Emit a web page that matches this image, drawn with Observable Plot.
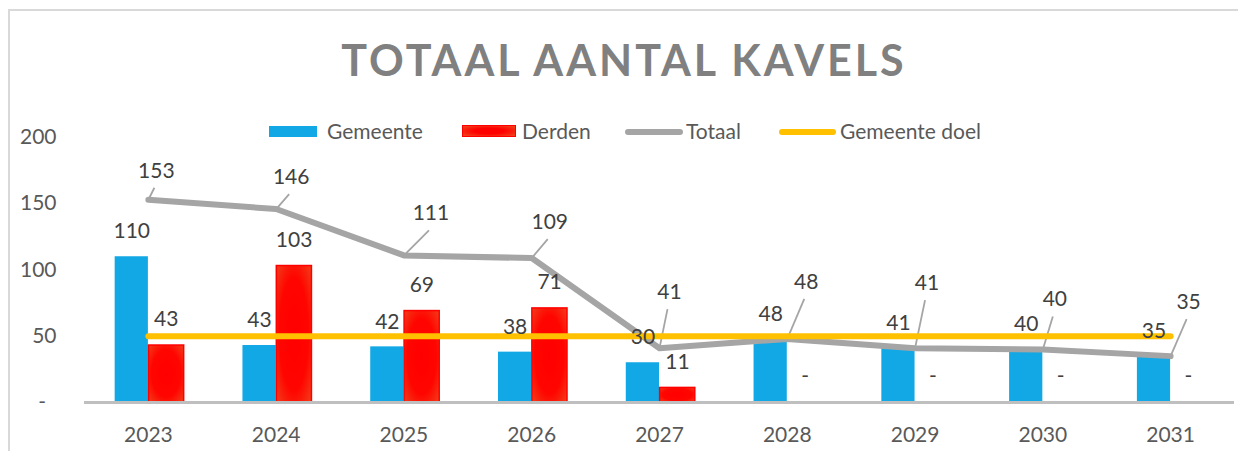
<!DOCTYPE html>
<html>
<head>
<meta charset="utf-8">
<script src="https://cdn.jsdelivr.net/npm/d3@7"></script>
<script src="https://cdn.jsdelivr.net/npm/@observablehq/plot@0.6"></script>
<style>
  html, body { margin: 0; padding: 0; background: #fff; overflow: hidden; }
  #wrap { position: relative; width: 1238px; height: 451px; font-family: Lato, "Open Sans", sans-serif; overflow: hidden; }
  #frame { position: absolute; left: 8px; top: 9px; width: 1260px; height: 480px; border: 2px solid #D9D9D9; box-sizing: border-box; }
  #title { position: absolute; left: 0; top: 34px; width: 1248px; text-align: center; font-weight: 700; font-size: 43px; line-height: 52px; letter-spacing: 3px; color: #808080; }
  #chart { position: absolute; left: 0; top: 100px; }
  .sw { position: absolute; box-sizing: border-box; }
  .lt { position: absolute; top: 119px; line-height: 24px; font-size: 21px; color: #595959; white-space: nowrap; }
</style>
</head>
<body>
<div id="wrap">
  <div id="frame"></div>
  <div id="title">TOTAAL AANTAL KAVELS</div>
  <div id="chart"></div>
  <div id="legend"></div>
</div>
<script>
// ---- data ----
const years = ["2023", "2024", "2025", "2026", "2027", "2028", "2029", "2030", "2031"];
const gemeente = [110, 43, 42, 38, 30, 48, 41, 40, 35];
const derden = [43, 103, 69, 71, 11, 0, 0, 0, 0];
const totaal = [153, 146, 111, 109, 41, 48, 41, 40, 35];
const gemeenteDoel = [50, 50, 50, 50, 50, 50, 50, 50, 50];
const yTicks = [0, 50, 100, 150, 200];
const seriesNames = ["Gemeente", "Derden", "Totaal", "Gemeente doel"];
// pixel nudges of the manually placed "Totaal" data labels (dx, dy from the point)
const totaalLabelNudge = [[8, -29], [15, -32], [27, -42], [18, -36], [10, -56], [19, -57], [12, -65], [12, -50], [18, -54]];

const colors = { gemeente: "#12A8E5", derden: "#FF0000", totaal: "#A5A5A5", doel: "#FFC000" };

const rows = years.map((year, i) => ({
  i, year,
  gemeente: gemeente[i],
  derden: derden[i],
  totaal: totaal[i],
  doel: gemeenteDoel[i],
  nx: totaalLabelNudge[i][0],
  ny: totaalLabelNudge[i][1]
}));

const W = 1238, H = 351, mT = 37, mB = 49, mL = 84, mR = 4;
const pxPerX = (W - mL - mR) / years.length;
const pxPerY = (H - mT - mB) / 200;
const fmt = v => v === 0 ? "-" : String(v);

const svg = Plot.plot({
  width: W, height: H,
  marginTop: mT, marginBottom: mB, marginLeft: mL, marginRight: mR,
  style: { fontFamily: "Lato, 'Open Sans', sans-serif", fontSize: "21px", color: "#595959", overflow: "visible", background: "transparent" },
  x: {
    type: "linear", domain: [-0.5, years.length - 0.5],
    ticks: years.map((_, i) => i), tickFormat: i => years[i],
    tickSize: 0, tickPadding: 25, label: null
  },
  y: {
    domain: [0, 200], ticks: yTicks,
    tickFormat: d => d === 0 ? "-\u2002" : String(d),
    tickSize: 0, tickPadding: 28, label: null
  },
  marks: [
    Plot.rect(rows, { x1: d => d.i - 0.26, x2: d => d.i, y1: 0, y2: "gemeente", fill: colors.gemeente }),
    Plot.rect(rows.filter(d => d.derden > 0), { x1: d => d.i + 0.005, x2: d => d.i + 0.28, y1: 0, y2: "derden", fill: "url(#derdenGrad)", stroke: colors.derden, strokeWidth: 1.5 }),
    Plot.ruleY([0], { stroke: "#BFBFBF", strokeWidth: 3 }),
    Plot.link(rows, {
      x1: "i", y1: "totaal",
      x2: d => d.i + (d.nx - 2) / pxPerX,
      y2: d => d.totaal - (d.ny + 17) / pxPerY,
      stroke: colors.totaal, strokeWidth: 1.8
    }),
    Plot.line(rows, { x: "i", y: "totaal", stroke: colors.totaal, strokeWidth: 6, strokeLinejoin: "round" }),
    Plot.line(rows, { x: "i", y: "doel", stroke: colors.doel, strokeWidth: 6, strokeLinecap: "round" }),
    Plot.text(rows, { x: d => d.i - 0.13, y: "gemeente", text: d => fmt(d.gemeente), dy: -25, fill: "#404040" }),
    Plot.text(rows, { x: d => d.i + 0.14, y: "derden", text: d => fmt(d.derden), dy: -26, fill: "#404040" }),
    Plot.text(rows, {
      x: d => d.i + d.nx / pxPerX,
      y: d => d.totaal - d.ny / pxPerY,
      text: d => fmt(d.totaal), fill: "#404040"
    })
  ]
});

d3.select(svg).insert("defs", ":first-child").html(
  `<radialGradient id="derdenGrad" cx="50%" cy="50%" r="75%">
     <stop offset="0" stop-color="#FF0000"/>
     <stop offset="0.55" stop-color="#FF0500"/>
     <stop offset="1" stop-color="#F0481E"/>
   </radialGradient>`
);
document.getElementById("chart").appendChild(svg);

// ---- legend ----
const legend = document.getElementById("legend");
const items = [
  { name: seriesNames[0], sw: { left: 269, top: 126, width: 48, height: 11, background: colors.gemeente }, tx: 327 },
  { name: seriesNames[1], sw: { left: 462, top: 125, width: 54, height: 12, background: "radial-gradient(#FF0000 40%, #F0481E)", border: "1.5px solid #FF0000" }, tx: 522 },
  { name: seriesNames[2], sw: { left: 625, top: 129, width: 58, height: 6, background: colors.totaal, borderRadius: "3px" }, tx: 686 },
  { name: seriesNames[3], sw: { left: 779, top: 129, width: 57, height: 6, background: colors.doel, borderRadius: "3px" }, tx: 840 }
];
for (const it of items) {
  const s = document.createElement("div");
  s.className = "sw";
  for (const [k, v] of Object.entries(it.sw)) s.style[k] = typeof v === "number" ? v + "px" : v;
  legend.appendChild(s);
  const t = document.createElement("div");
  t.className = "lt";
  t.style.left = it.tx + "px";
  t.textContent = it.name;
  legend.appendChild(t);
}
</script>
</body>
</html>
